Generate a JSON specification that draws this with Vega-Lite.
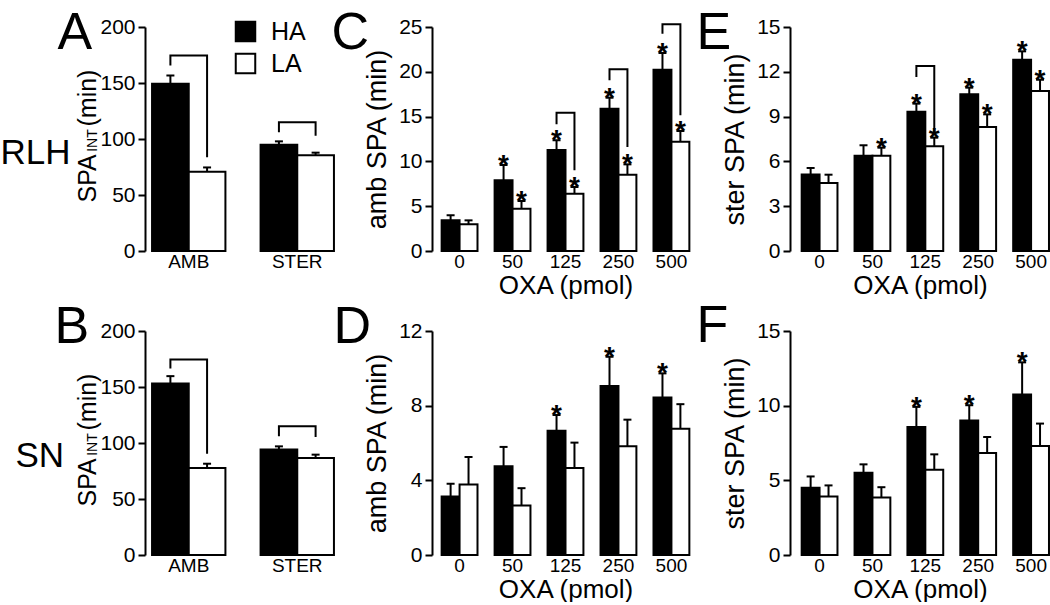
{
"$schema": "https://vega.github.io/schema/vega-lite/v6.json",
"background": "white",
"padding": {"left": 0, "top": 6, "right": 0, "bottom": 0},
"config": {
  "font": "Liberation Sans",
  "view": {"stroke": null},
  "axis": {"grid": false, "labelColor": "black", "titleColor": "black", "domainColor": "black", "tickColor": "black", "labelFont": "Liberation Sans", "titleFont": "Liberation Sans", "titleFontWeight": "normal"},
  "axisY": {"domainWidth": 2, "tickWidth": 2, "tickSize": 7, "labelFontSize": 21, "titleFontSize": 27, "labelPadding": 3, "titlePadding": 7},
  "axisX": {"domain": false, "ticks": false, "labelFontSize": 19, "labelPadding": 1, "titleFontSize": 26, "titlePadding": 1, "labelAngle": 0},
  "legend": {"labelColor": "black", "labelFont": "Liberation Sans"}
},
"datasets": {
  "A": [
    {"x": "AMB", "group": "HA", "mean": 149.3, "err": 156.7},
    {"x": "AMB", "group": "LA", "mean": 70.7, "err": 74.6},
    {"x": "STER", "group": "HA", "mean": 94.9, "err": 97.9},
    {"x": "STER", "group": "LA", "mean": 85.4, "err": 87.8}
  ],
  "Abr": [
    {"x": "AMB", "group": "HA", "y": 165.7, "bracket": "AMB", "ord": 1},
    {"x": "AMB", "group": "HA", "y": 174.6, "bracket": "AMB", "ord": 2},
    {"x": "AMB", "group": "LA", "y": 174.6, "bracket": "AMB", "ord": 3},
    {"x": "AMB", "group": "LA", "y": 83.6, "bracket": "AMB", "ord": 4},
    {"x": "STER", "group": "HA", "y": 106, "bracket": "STER", "ord": 1},
    {"x": "STER", "group": "HA", "y": 114.9, "bracket": "STER", "ord": 2},
    {"x": "STER", "group": "LA", "y": 114.9, "bracket": "STER", "ord": 3},
    {"x": "STER", "group": "LA", "y": 103, "bracket": "STER", "ord": 4}
  ],
  "B": [
    {"x": "AMB", "group": "HA", "mean": 153.1, "err": 159.7},
    {"x": "AMB", "group": "LA", "mean": 77.6, "err": 81.5},
    {"x": "STER", "group": "HA", "mean": 94.3, "err": 97},
    {"x": "STER", "group": "LA", "mean": 86.6, "err": 89.6}
  ],
  "Bbr": [
    {"x": "AMB", "group": "HA", "y": 166.6, "bracket": "AMB", "ord": 1},
    {"x": "AMB", "group": "HA", "y": 174.6, "bracket": "AMB", "ord": 2},
    {"x": "AMB", "group": "LA", "y": 174.6, "bracket": "AMB", "ord": 3},
    {"x": "AMB", "group": "LA", "y": 90.4, "bracket": "AMB", "ord": 4},
    {"x": "STER", "group": "HA", "y": 106, "bracket": "STER", "ord": 1},
    {"x": "STER", "group": "HA", "y": 114.9, "bracket": "STER", "ord": 2},
    {"x": "STER", "group": "LA", "y": 114.9, "bracket": "STER", "ord": 3},
    {"x": "STER", "group": "LA", "y": 105.4, "bracket": "STER", "ord": 4}
  ],
  "C": [
    {"x": "0", "group": "HA", "mean": 3.42, "err": 3.98, "sig": false},
    {"x": "0", "group": "LA", "mean": 2.98, "err": 3.42, "sig": false},
    {"x": "50", "group": "HA", "mean": 7.89, "err": 9.6, "sig": true},
    {"x": "50", "group": "LA", "mean": 4.72, "err": 5.58, "sig": true},
    {"x": "125", "group": "HA", "mean": 11.27, "err": 12.35, "sig": true},
    {"x": "125", "group": "LA", "mean": 6.4, "err": 7.14, "sig": true},
    {"x": "250", "group": "HA", "mean": 15.89, "err": 17.11, "sig": true},
    {"x": "250", "group": "LA", "mean": 8.52, "err": 9.67, "sig": true},
    {"x": "500", "group": "HA", "mean": 20.24, "err": 22.1, "sig": true},
    {"x": "500", "group": "LA", "mean": 12.2, "err": 13.39, "sig": true}
  ],
  "Cbr": [
    {"x": "125", "group": "HA", "y": 14.14, "bracket": "b125", "ord": 1},
    {"x": "125", "group": "HA", "y": 15.44, "bracket": "b125", "ord": 2},
    {"x": "125", "group": "LA", "y": 15.44, "bracket": "b125", "ord": 3},
    {"x": "125", "group": "LA", "y": 9.0, "bracket": "b125", "ord": 4},
    {"x": "250", "group": "HA", "y": 19.05, "bracket": "b250", "ord": 1},
    {"x": "250", "group": "HA", "y": 20.28, "bracket": "b250", "ord": 2},
    {"x": "250", "group": "LA", "y": 20.28, "bracket": "b250", "ord": 3},
    {"x": "250", "group": "LA", "y": 11.6, "bracket": "b250", "ord": 4},
    {"x": "500", "group": "HA", "y": 24.26, "bracket": "b500", "ord": 1},
    {"x": "500", "group": "HA", "y": 25.3, "bracket": "b500", "ord": 2},
    {"x": "500", "group": "LA", "y": 25.3, "bracket": "b500", "ord": 3},
    {"x": "500", "group": "LA", "y": 15.14, "bracket": "b500", "ord": 4}
  ],
  "D": [
    {"x": "0", "group": "HA", "mean": 3.13, "err": 3.82, "sig": false},
    {"x": "0", "group": "LA", "mean": 3.78, "err": 5.25, "sig": false},
    {"x": "50", "group": "HA", "mean": 4.76, "err": 5.79, "sig": false},
    {"x": "50", "group": "LA", "mean": 2.65, "err": 3.58, "sig": false},
    {"x": "125", "group": "HA", "mean": 6.66, "err": 7.5, "sig": true},
    {"x": "125", "group": "LA", "mean": 4.66, "err": 6.02, "sig": false},
    {"x": "250", "group": "HA", "mean": 9.06, "err": 10.62, "sig": true},
    {"x": "250", "group": "LA", "mean": 5.82, "err": 7.25, "sig": false},
    {"x": "500", "group": "HA", "mean": 8.44, "err": 9.73, "sig": true},
    {"x": "500", "group": "LA", "mean": 6.77, "err": 8.08, "sig": false}
  ],
  "E": [
    {"x": "0", "group": "HA", "mean": 5.13, "err": 5.56, "sig": false},
    {"x": "0", "group": "LA", "mean": 4.55, "err": 5.11, "sig": false},
    {"x": "50", "group": "HA", "mean": 6.38, "err": 7.08, "sig": false},
    {"x": "50", "group": "LA", "mean": 6.38, "err": 6.92, "sig": true},
    {"x": "125", "group": "HA", "mean": 9.33, "err": 9.87, "sig": true},
    {"x": "125", "group": "LA", "mean": 7.01, "err": 7.59, "sig": true},
    {"x": "250", "group": "HA", "mean": 10.49, "err": 10.94, "sig": true},
    {"x": "250", "group": "LA", "mean": 8.3, "err": 9.15, "sig": true},
    {"x": "500", "group": "HA", "mean": 12.81, "err": 13.37, "sig": true},
    {"x": "500", "group": "LA", "mean": 10.71, "err": 11.47, "sig": true}
  ],
  "Ebr": [
    {"x": "125", "group": "HA", "y": 11.65, "bracket": "b125", "ord": 1},
    {"x": "125", "group": "HA", "y": 12.39, "bracket": "b125", "ord": 2},
    {"x": "125", "group": "LA", "y": 12.39, "bracket": "b125", "ord": 3},
    {"x": "125", "group": "LA", "y": 7.9, "bracket": "b125", "ord": 4}
  ],
  "F": [
    {"x": "0", "group": "HA", "mean": 4.5, "err": 5.26, "sig": false},
    {"x": "0", "group": "LA", "mean": 3.92, "err": 4.66, "sig": false},
    {"x": "50", "group": "HA", "mean": 5.51, "err": 6.07, "sig": false},
    {"x": "50", "group": "LA", "mean": 3.85, "err": 4.54, "sig": false},
    {"x": "125", "group": "HA", "mean": 8.57, "err": 9.92, "sig": true},
    {"x": "125", "group": "LA", "mean": 5.71, "err": 6.74, "sig": false},
    {"x": "250", "group": "HA", "mean": 9.0, "err": 10.03, "sig": true},
    {"x": "250", "group": "LA", "mean": 6.83, "err": 7.9, "sig": false},
    {"x": "500", "group": "HA", "mean": 10.75, "err": 12.9, "sig": true},
    {"x": "500", "group": "LA", "mean": 7.3, "err": 8.8, "sig": false}
  ]
},
"columns": 3,
"bounds": "flush",
"spacing": {"row": 80, "column": 91},
"resolve": {"scale": {"fill": "independent", "xOffset": "independent"}, "legend": {"fill": "independent"}},
"concat": [
   {
    "width": 196, "height": 224,
    "data": {"name": "A"},
    "resolve": {"axis": {"y": "independent"}},
    "layer": [
     {"mark": {"type": "bar", "stroke": "black", "strokeWidth": 2},
      "encoding": {
       "x": {"field": "x", "type": "nominal", "scale": {"domain": ["AMB", "STER"], "paddingInner": 0.324, "paddingOuter": 0.065}, "axis": {"title": null}},
       "xOffset": {"field": "group", "type": "nominal", "scale": {"domain": ["HA", "LA"], "paddingInner": 0, "paddingOuter": 0}},
       "y": {"field": "mean", "type": "quantitative", "scale": {"domain": [0, 200]}, "axis": {"orient": "left", "values": [0, 50, 100, 150, 200], "title": "SPA\u00a0\u00a0\u00a0\u00a0(min)", "titleFontSize": 25, "titleX": -50, "titleY": 108.5, "titleAngle": 270, "titleAlign": "center", "titleBaseline": "alphabetic"}},
       "fill": {"field": "group", "type": "nominal", "scale": {"domain": ["HA", "LA"], "range": ["black", "white"]},
         "legend": {"orient": "none", "legendX": 88, "legendY": -8, "title": null, "symbolType": "square", "symbolSize": 380, "symbolStrokeColor": "black", "symbolStrokeWidth": 2, "symbolOpacity": 1, "labelFontSize": 25, "labelOffset": 13, "rowPadding": 3, "padding": 0}}
      }},
     {"mark": {"type": "rule", "color": "black", "strokeWidth": 2},
      "encoding": {
       "x": {"field": "x", "type": "nominal", "scale": {"domain": ["AMB", "STER"], "paddingInner": 0.324, "paddingOuter": 0.065}, "axis": {"title": null}},
       "xOffset": {"field": "group", "type": "nominal", "scale": {"domain": ["HA", "LA"], "paddingInner": 0, "paddingOuter": 0}},
       "y": {"field": "mean", "type": "quantitative", "scale": {"domain": [0, 200]}, "axis": {"orient": "left", "title": "INT", "titleFontSize": 14, "titleX": -49, "titleY": 113, "titleAngle": 270, "titleAlign": "center", "titleBaseline": "alphabetic", "labels": false, "ticks": false, "domain": false}},
       "y2": {"field": "err"}
      }},
     {"mark": {"type": "tick", "color": "black", "size": 8, "thickness": 2, "opacity": 1},
      "encoding": {
       "x": {"field": "x", "type": "nominal", "scale": {"domain": ["AMB", "STER"], "paddingInner": 0.324, "paddingOuter": 0.065}, "axis": {"title": null}},
       "xOffset": {"field": "group", "type": "nominal", "scale": {"domain": ["HA", "LA"], "paddingInner": 0, "paddingOuter": 0}},
       "y": {"field": "err", "type": "quantitative", "scale": {"domain": [0, 200]}, "axis": {"orient": "left", "title": "A", "titleFontSize": 52, "titleX": -88, "titleY": 21, "titleAngle": 0, "titleAlign": "left", "titleBaseline": "alphabetic", "labels": false, "ticks": false, "domain": false}}
      }},
     {"data": {"name": "Abr"},
      "mark": {"type": "line", "color": "black", "strokeWidth": 2},
      "encoding": {
       "x": {"field": "x", "type": "nominal", "scale": {"domain": ["AMB", "STER"], "paddingInner": 0.324, "paddingOuter": 0.065}, "axis": {"title": null}},
       "xOffset": {"field": "group", "type": "nominal", "scale": {"domain": ["HA", "LA"], "paddingInner": 0, "paddingOuter": 0}},
       "y": {"field": "y", "type": "quantitative", "scale": {"domain": [0, 200]}, "axis": {"orient": "left", "title": "RLH", "titleFontSize": 35, "titleX": -145, "titleY": 136, "titleAngle": 0, "titleAlign": "left", "titleBaseline": "alphabetic", "labels": false, "ticks": false, "domain": false}},
       "detail": {"field": "bracket", "type": "nominal"},
       "order": {"field": "ord", "type": "quantitative"}
      }}
    ]
   },
   {
    "width": 267, "height": 224,
    "data": {"name": "C"},
    "resolve": {"axis": {"y": "independent"}},
    "layer": [
     {"mark": {"type": "bar", "stroke": "black", "strokeWidth": 2},
      "encoding": {
       "x": {"field": "x", "type": "nominal", "scale": {"domain": ["0", "50", "125", "250", "500"], "paddingInner": 0.323, "paddingOuter": 0.182}, "axis": {"title": "OXA (pmol)"}},
       "xOffset": {"field": "group", "type": "nominal", "scale": {"domain": ["HA", "LA"], "paddingInner": 0, "paddingOuter": 0}},
       "y": {"field": "mean", "type": "quantitative", "scale": {"domain": [0, 25]}, "axis": {"orient": "left", "values": [0, 5, 10, 15, 20, 25], "title": "amb SPA (min)"}},
       "fill": {"field": "group", "type": "nominal", "scale": {"domain": ["HA", "LA"], "range": ["black", "white"]}, "legend": null}
      }},
     {"mark": {"type": "rule", "color": "black", "strokeWidth": 2},
      "encoding": {
       "x": {"field": "x", "type": "nominal", "scale": {"domain": ["0", "50", "125", "250", "500"], "paddingInner": 0.323, "paddingOuter": 0.182}, "axis": {"title": "OXA (pmol)"}},
       "xOffset": {"field": "group", "type": "nominal", "scale": {"domain": ["HA", "LA"], "paddingInner": 0, "paddingOuter": 0}},
       "y": {"field": "mean", "type": "quantitative", "scale": {"domain": [0, 25]}, "axis": {"orient": "left", "title": "C", "titleFontSize": 52, "titleX": -101, "titleY": 21, "titleAngle": 0, "titleAlign": "left", "titleBaseline": "alphabetic", "labels": false, "ticks": false, "domain": false}},
       "y2": {"field": "err"}
      }},
     {"mark": {"type": "tick", "color": "black", "size": 8, "thickness": 2, "opacity": 1},
      "encoding": {
       "x": {"field": "x", "type": "nominal", "scale": {"domain": ["0", "50", "125", "250", "500"], "paddingInner": 0.323, "paddingOuter": 0.182}, "axis": {"title": "OXA (pmol)"}},
       "xOffset": {"field": "group", "type": "nominal", "scale": {"domain": ["HA", "LA"], "paddingInner": 0, "paddingOuter": 0}},
       "y": {"field": "err", "type": "quantitative", "scale": {"domain": [0, 25]}, "axis": null}
      }},
     {"transform": [{"filter": {"field": "sig", "equal": true}}],
      "mark": {"type": "text", "text": "*", "fontSize": 28, "fontWeight": "bold", "baseline": "alphabetic", "dy": 9, "color": "black", "fill": "black"},
      "encoding": {
       "x": {"field": "x", "type": "nominal", "scale": {"domain": ["0", "50", "125", "250", "500"], "paddingInner": 0.323, "paddingOuter": 0.182}, "axis": {"title": "OXA (pmol)"}},
       "xOffset": {"field": "group", "type": "nominal", "scale": {"domain": ["HA", "LA"], "paddingInner": 0, "paddingOuter": 0}},
       "y": {"field": "err", "type": "quantitative", "scale": {"domain": [0, 25]}, "axis": null}
      }},
     {"data": {"name": "Cbr"},
      "mark": {"type": "line", "color": "black", "strokeWidth": 2},
      "encoding": {
       "x": {"field": "x", "type": "nominal", "scale": {"domain": ["0", "50", "125", "250", "500"], "paddingInner": 0.323, "paddingOuter": 0.182}, "axis": {"title": "OXA (pmol)"}},
       "xOffset": {"field": "group", "type": "nominal", "scale": {"domain": ["HA", "LA"], "paddingInner": 0, "paddingOuter": 0}},
       "y": {"field": "y", "type": "quantitative", "scale": {"domain": [0, 25]}, "axis": null},
       "detail": {"field": "bracket", "type": "nominal"},
       "order": {"field": "ord", "type": "quantitative"}
      }}
    ]
   },
   {
    "width": 260, "height": 224,
    "data": {"name": "E"},
    "resolve": {"axis": {"y": "independent"}},
    "layer": [
     {"mark": {"type": "bar", "stroke": "black", "strokeWidth": 2},
      "encoding": {
       "x": {"field": "x", "type": "nominal", "scale": {"domain": ["0", "50", "125", "250", "500"], "paddingInner": 0.323, "paddingOuter": 0.12, "align": 0.92}, "axis": {"title": "OXA (pmol)"}},
       "xOffset": {"field": "group", "type": "nominal", "scale": {"domain": ["HA", "LA"], "paddingInner": 0, "paddingOuter": 0}},
       "y": {"field": "mean", "type": "quantitative", "scale": {"domain": [0, 15]}, "axis": {"orient": "left", "values": [0, 3, 6, 9, 12, 15], "title": "ster SPA (min)"}},
       "fill": {"field": "group", "type": "nominal", "scale": {"domain": ["HA", "LA"], "range": ["black", "white"]}, "legend": null}
      }},
     {"mark": {"type": "rule", "color": "black", "strokeWidth": 2},
      "encoding": {
       "x": {"field": "x", "type": "nominal", "scale": {"domain": ["0", "50", "125", "250", "500"], "paddingInner": 0.323, "paddingOuter": 0.12, "align": 0.92}, "axis": {"title": "OXA (pmol)"}},
       "xOffset": {"field": "group", "type": "nominal", "scale": {"domain": ["HA", "LA"], "paddingInner": 0, "paddingOuter": 0}},
       "y": {"field": "mean", "type": "quantitative", "scale": {"domain": [0, 15]}, "axis": {"orient": "left", "title": "E", "titleFontSize": 52, "titleX": -94, "titleY": 21, "titleAngle": 0, "titleAlign": "left", "titleBaseline": "alphabetic", "labels": false, "ticks": false, "domain": false}},
       "y2": {"field": "err"}
      }},
     {"mark": {"type": "tick", "color": "black", "size": 8, "thickness": 2, "opacity": 1},
      "encoding": {
       "x": {"field": "x", "type": "nominal", "scale": {"domain": ["0", "50", "125", "250", "500"], "paddingInner": 0.323, "paddingOuter": 0.12, "align": 0.92}, "axis": {"title": "OXA (pmol)"}},
       "xOffset": {"field": "group", "type": "nominal", "scale": {"domain": ["HA", "LA"], "paddingInner": 0, "paddingOuter": 0}},
       "y": {"field": "err", "type": "quantitative", "scale": {"domain": [0, 15]}, "axis": null}
      }},
     {"transform": [{"filter": {"field": "sig", "equal": true}}],
      "mark": {"type": "text", "text": "*", "fontSize": 28, "fontWeight": "bold", "baseline": "alphabetic", "dy": 9, "color": "black", "fill": "black"},
      "encoding": {
       "x": {"field": "x", "type": "nominal", "scale": {"domain": ["0", "50", "125", "250", "500"], "paddingInner": 0.323, "paddingOuter": 0.12, "align": 0.92}, "axis": {"title": "OXA (pmol)"}},
       "xOffset": {"field": "group", "type": "nominal", "scale": {"domain": ["HA", "LA"], "paddingInner": 0, "paddingOuter": 0}},
       "y": {"field": "err", "type": "quantitative", "scale": {"domain": [0, 15]}, "axis": null}
      }},
     {"data": {"name": "Ebr"},
      "mark": {"type": "line", "color": "black", "strokeWidth": 2},
      "encoding": {
       "x": {"field": "x", "type": "nominal", "scale": {"domain": ["0", "50", "125", "250", "500"], "paddingInner": 0.323, "paddingOuter": 0.12, "align": 0.92}, "axis": {"title": "OXA (pmol)"}},
       "xOffset": {"field": "group", "type": "nominal", "scale": {"domain": ["HA", "LA"], "paddingInner": 0, "paddingOuter": 0}},
       "y": {"field": "y", "type": "quantitative", "scale": {"domain": [0, 15]}, "axis": null},
       "detail": {"field": "bracket", "type": "nominal"},
       "order": {"field": "ord", "type": "quantitative"}
      }}
    ]
   },
   {
    "width": 196, "height": 224,
    "data": {"name": "B"},
    "resolve": {"axis": {"y": "independent"}},
    "layer": [
     {"mark": {"type": "bar", "stroke": "black", "strokeWidth": 2},
      "encoding": {
       "x": {"field": "x", "type": "nominal", "scale": {"domain": ["AMB", "STER"], "paddingInner": 0.324, "paddingOuter": 0.065}, "axis": {"title": null}},
       "xOffset": {"field": "group", "type": "nominal", "scale": {"domain": ["HA", "LA"], "paddingInner": 0, "paddingOuter": 0}},
       "y": {"field": "mean", "type": "quantitative", "scale": {"domain": [0, 200]}, "axis": {"orient": "left", "values": [0, 50, 100, 150, 200], "title": "SPA\u00a0\u00a0\u00a0\u00a0(min)", "titleFontSize": 25, "titleX": -50, "titleY": 108.5, "titleAngle": 270, "titleAlign": "center", "titleBaseline": "alphabetic"}},
       "fill": {"field": "group", "type": "nominal", "scale": {"domain": ["HA", "LA"], "range": ["black", "white"]}, "legend": null}
      }},
     {"mark": {"type": "rule", "color": "black", "strokeWidth": 2},
      "encoding": {
       "x": {"field": "x", "type": "nominal", "scale": {"domain": ["AMB", "STER"], "paddingInner": 0.324, "paddingOuter": 0.065}, "axis": {"title": null}},
       "xOffset": {"field": "group", "type": "nominal", "scale": {"domain": ["HA", "LA"], "paddingInner": 0, "paddingOuter": 0}},
       "y": {"field": "mean", "type": "quantitative", "scale": {"domain": [0, 200]}, "axis": {"orient": "left", "title": "INT", "titleFontSize": 14, "titleX": -49, "titleY": 113, "titleAngle": 270, "titleAlign": "center", "titleBaseline": "alphabetic", "labels": false, "ticks": false, "domain": false}},
       "y2": {"field": "err"}
      }},
     {"mark": {"type": "tick", "color": "black", "size": 8, "thickness": 2, "opacity": 1},
      "encoding": {
       "x": {"field": "x", "type": "nominal", "scale": {"domain": ["AMB", "STER"], "paddingInner": 0.324, "paddingOuter": 0.065}, "axis": {"title": null}},
       "xOffset": {"field": "group", "type": "nominal", "scale": {"domain": ["HA", "LA"], "paddingInner": 0, "paddingOuter": 0}},
       "y": {"field": "err", "type": "quantitative", "scale": {"domain": [0, 200]}, "axis": {"orient": "left", "title": "B", "titleFontSize": 52, "titleX": -91, "titleY": 11, "titleAngle": 0, "titleAlign": "left", "titleBaseline": "alphabetic", "labels": false, "ticks": false, "domain": false}}
      }},
     {"data": {"name": "Bbr"},
      "mark": {"type": "line", "color": "black", "strokeWidth": 2},
      "encoding": {
       "x": {"field": "x", "type": "nominal", "scale": {"domain": ["AMB", "STER"], "paddingInner": 0.324, "paddingOuter": 0.065}, "axis": {"title": null}},
       "xOffset": {"field": "group", "type": "nominal", "scale": {"domain": ["HA", "LA"], "paddingInner": 0, "paddingOuter": 0}},
       "y": {"field": "y", "type": "quantitative", "scale": {"domain": [0, 200]}, "axis": {"orient": "left", "title": "SN", "titleFontSize": 35, "titleX": -130, "titleY": 135, "titleAngle": 0, "titleAlign": "left", "titleBaseline": "alphabetic", "labels": false, "ticks": false, "domain": false}},
       "detail": {"field": "bracket", "type": "nominal"},
       "order": {"field": "ord", "type": "quantitative"}
      }}
    ]
   },
   {
    "width": 267, "height": 224,
    "data": {"name": "D"},
    "resolve": {"axis": {"y": "independent"}},
    "layer": [
     {"mark": {"type": "bar", "stroke": "black", "strokeWidth": 2},
      "encoding": {
       "x": {"field": "x", "type": "nominal", "scale": {"domain": ["0", "50", "125", "250", "500"], "paddingInner": 0.323, "paddingOuter": 0.182}, "axis": {"title": "OXA (pmol)"}},
       "xOffset": {"field": "group", "type": "nominal", "scale": {"domain": ["HA", "LA"], "paddingInner": 0, "paddingOuter": 0}},
       "y": {"field": "mean", "type": "quantitative", "scale": {"domain": [0, 12]}, "axis": {"orient": "left", "values": [0, 4, 8, 12], "title": "amb SPA (min)"}},
       "fill": {"field": "group", "type": "nominal", "scale": {"domain": ["HA", "LA"], "range": ["black", "white"]}, "legend": null}
      }},
     {"mark": {"type": "rule", "color": "black", "strokeWidth": 2},
      "encoding": {
       "x": {"field": "x", "type": "nominal", "scale": {"domain": ["0", "50", "125", "250", "500"], "paddingInner": 0.323, "paddingOuter": 0.182}, "axis": {"title": "OXA (pmol)"}},
       "xOffset": {"field": "group", "type": "nominal", "scale": {"domain": ["HA", "LA"], "paddingInner": 0, "paddingOuter": 0}},
       "y": {"field": "mean", "type": "quantitative", "scale": {"domain": [0, 12]}, "axis": {"orient": "left", "title": "D", "titleFontSize": 52, "titleX": -99, "titleY": 11, "titleAngle": 0, "titleAlign": "left", "titleBaseline": "alphabetic", "labels": false, "ticks": false, "domain": false}},
       "y2": {"field": "err"}
      }},
     {"mark": {"type": "tick", "color": "black", "size": 8, "thickness": 2, "opacity": 1},
      "encoding": {
       "x": {"field": "x", "type": "nominal", "scale": {"domain": ["0", "50", "125", "250", "500"], "paddingInner": 0.323, "paddingOuter": 0.182}, "axis": {"title": "OXA (pmol)"}},
       "xOffset": {"field": "group", "type": "nominal", "scale": {"domain": ["HA", "LA"], "paddingInner": 0, "paddingOuter": 0}},
       "y": {"field": "err", "type": "quantitative", "scale": {"domain": [0, 12]}, "axis": null}
      }},
     {"transform": [{"filter": {"field": "sig", "equal": true}}],
      "mark": {"type": "text", "text": "*", "fontSize": 28, "fontWeight": "bold", "baseline": "alphabetic", "dy": 9, "color": "black", "fill": "black"},
      "encoding": {
       "x": {"field": "x", "type": "nominal", "scale": {"domain": ["0", "50", "125", "250", "500"], "paddingInner": 0.323, "paddingOuter": 0.182}, "axis": {"title": "OXA (pmol)"}},
       "xOffset": {"field": "group", "type": "nominal", "scale": {"domain": ["HA", "LA"], "paddingInner": 0, "paddingOuter": 0}},
       "y": {"field": "err", "type": "quantitative", "scale": {"domain": [0, 12]}, "axis": null}
      }}
    ]
   },
   {
    "width": 260, "height": 224,
    "data": {"name": "F"},
    "resolve": {"axis": {"y": "independent"}},
    "layer": [
     {"mark": {"type": "bar", "stroke": "black", "strokeWidth": 2},
      "encoding": {
       "x": {"field": "x", "type": "nominal", "scale": {"domain": ["0", "50", "125", "250", "500"], "paddingInner": 0.323, "paddingOuter": 0.12, "align": 0.92}, "axis": {"title": "OXA (pmol)"}},
       "xOffset": {"field": "group", "type": "nominal", "scale": {"domain": ["HA", "LA"], "paddingInner": 0, "paddingOuter": 0}},
       "y": {"field": "mean", "type": "quantitative", "scale": {"domain": [0, 15]}, "axis": {"orient": "left", "values": [0, 5, 10, 15], "title": "ster SPA (min)"}},
       "fill": {"field": "group", "type": "nominal", "scale": {"domain": ["HA", "LA"], "range": ["black", "white"]}, "legend": null}
      }},
     {"mark": {"type": "rule", "color": "black", "strokeWidth": 2},
      "encoding": {
       "x": {"field": "x", "type": "nominal", "scale": {"domain": ["0", "50", "125", "250", "500"], "paddingInner": 0.323, "paddingOuter": 0.12, "align": 0.92}, "axis": {"title": "OXA (pmol)"}},
       "xOffset": {"field": "group", "type": "nominal", "scale": {"domain": ["HA", "LA"], "paddingInner": 0, "paddingOuter": 0}},
       "y": {"field": "mean", "type": "quantitative", "scale": {"domain": [0, 15]}, "axis": {"orient": "left", "title": "F", "titleFontSize": 52, "titleX": -94, "titleY": 10, "titleAngle": 0, "titleAlign": "left", "titleBaseline": "alphabetic", "labels": false, "ticks": false, "domain": false}},
       "y2": {"field": "err"}
      }},
     {"mark": {"type": "tick", "color": "black", "size": 8, "thickness": 2, "opacity": 1},
      "encoding": {
       "x": {"field": "x", "type": "nominal", "scale": {"domain": ["0", "50", "125", "250", "500"], "paddingInner": 0.323, "paddingOuter": 0.12, "align": 0.92}, "axis": {"title": "OXA (pmol)"}},
       "xOffset": {"field": "group", "type": "nominal", "scale": {"domain": ["HA", "LA"], "paddingInner": 0, "paddingOuter": 0}},
       "y": {"field": "err", "type": "quantitative", "scale": {"domain": [0, 15]}, "axis": null}
      }},
     {"transform": [{"filter": {"field": "sig", "equal": true}}],
      "mark": {"type": "text", "text": "*", "fontSize": 28, "fontWeight": "bold", "baseline": "alphabetic", "dy": 9, "color": "black", "fill": "black"},
      "encoding": {
       "x": {"field": "x", "type": "nominal", "scale": {"domain": ["0", "50", "125", "250", "500"], "paddingInner": 0.323, "paddingOuter": 0.12, "align": 0.92}, "axis": {"title": "OXA (pmol)"}},
       "xOffset": {"field": "group", "type": "nominal", "scale": {"domain": ["HA", "LA"], "paddingInner": 0, "paddingOuter": 0}},
       "y": {"field": "err", "type": "quantitative", "scale": {"domain": [0, 15]}, "axis": null}
      }}
    ]
   }
]
}
